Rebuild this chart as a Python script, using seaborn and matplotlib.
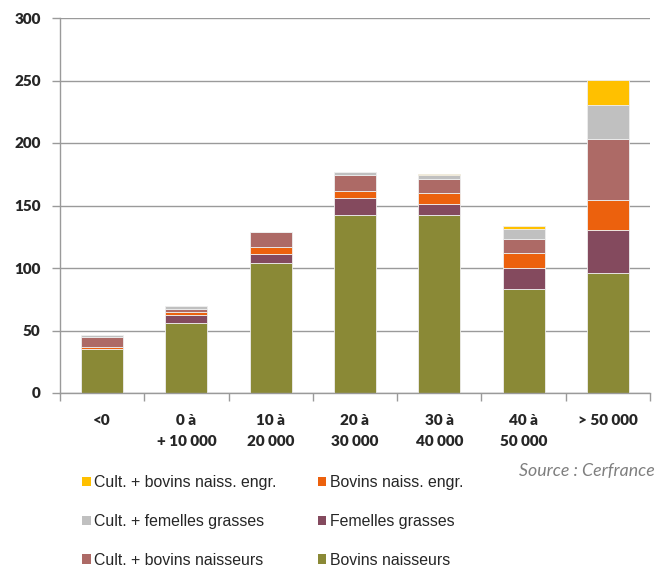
import matplotlib
matplotlib.use("Agg")
import matplotlib.pyplot as plt
import seaborn as sns
import numpy as np
import pandas as pd
from matplotlib.patches import Patch

categories = ["<0", "0 à\n+ 10 000", "10 à\n20 000", "20 à\n30 000",
              "30 à\n40 000", "40 à\n50 000", "> 50 000\n"]

bovins_naisseurs = [35, 55.7, 103.7, 142.4, 142.4, 83.5, 95.7]
femelles_grasses = [0, 7, 7.7, 13.9, 9, 16.8, 34.7]
bovins_naiss_engr = [1.6, 2, 5.6, 5.1, 8.3, 12, 24]
cult_bovins_naisseurs = [8.5, 2.4, 11.5, 13, 11.4, 11, 49]
cult_femelles_grasses = [1.3, 2.4, 0, 2.1, 3, 8.3, 27]
cult_bovins_naiss_engr = [0, 0, 0, 0, 1.3, 2.1, 20]

series = [
    ("Bovins naisseurs", bovins_naisseurs, "#8A8936"),
    ("Femelles grasses", femelles_grasses, "#844A5E"),
    ("Bovins naiss. engr.", bovins_naiss_engr, "#EC610D"),
    ("Cult. + bovins naisseurs", cult_bovins_naisseurs, "#AD6A66"),
    ("Cult. + femelles grasses", cult_femelles_grasses, "#C0C0C0"),
    ("Cult. + bovins naiss. engr.", cult_bovins_naiss_engr, "#FFC000"),
]

sns.set_theme(style="white")
plt.rcParams["font.family"] = ["Lato", "DejaVu Sans"]

fig = plt.figure(figsize=(6.71, 5.68), dpi=100)
ax = fig.add_axes([60 / 671, 1 - 393 / 568, (650 - 60) / 671, (393 - 18) / 568])

bottom = np.zeros(len(categories))
for name, vals, col in series:
    df = pd.DataFrame({"cat": categories, "val": vals})
    sns.barplot(data=df, x="cat", y="val", order=categories, color=col,
                width=0.5, bottom=bottom.copy(), ax=ax, edgecolor="#eeeeee",
                linewidth=0.6, saturation=1, errorbar=None)
    bottom += np.array(vals)

ax.set_xlim(-0.5, len(categories) - 0.5)
ax.set_ylim(0, 300)
ax.set_yticks(np.arange(0, 301, 50))
ax.yaxis.grid(True, color="#9a9a9a", linewidth=1)
ax.set_axisbelow(True)
ax.set_xlabel("")
ax.set_ylabel("")
for s in ["top", "right"]:
    ax.spines[s].set_visible(False)
for s in ["left", "bottom"]:
    ax.spines[s].set_color("#9a9a9a")
    ax.spines[s].set_linewidth(1)

ax.tick_params(axis="y", which="major", length=6, color="#9a9a9a", width=1,
               labelsize=11, pad=8, left=True)
for lab in ax.get_yticklabels():
    lab.set_fontweight("heavy")
ax.set_xticks(np.arange(-0.5, len(categories), 1), minor=True)
ax.tick_params(axis="x", which="minor", length=6, color="#9a9a9a", width=1, bottom=True)
ax.tick_params(axis="x", which="major", length=0, labelsize=11, pad=15)
ax.set_xticks(range(len(categories)))
ax.set_xticklabels(categories, fontweight="heavy", linespacing=1.75, va="top")

handles = [Patch(facecolor=c, edgecolor="none") for _, _, c in series]
names = [n for n, _, _ in series]
order = [5, 4, 3, 2, 1, 0]
leg = fig.legend([handles[i] for i in order], [names[i] for i in order],
                 ncol=2, loc="upper left", bbox_to_anchor=(68 / 671, 1 - 461 / 568),
                 frameon=False, prop={"family": "Liberation Sans", "size": 11.4},
                 handlelength=0.55, handleheight=0.55, handletextpad=0.2,
                 labelspacing=1.5, columnspacing=2.6)

fig.text(655 / 671, 1 - 471 / 568, "Source : Cerfrance", ha="right", va="center",
         style="italic", color="#7f7f7f", fontsize=12.8)

fig.savefig("out.png", dpi=100)
